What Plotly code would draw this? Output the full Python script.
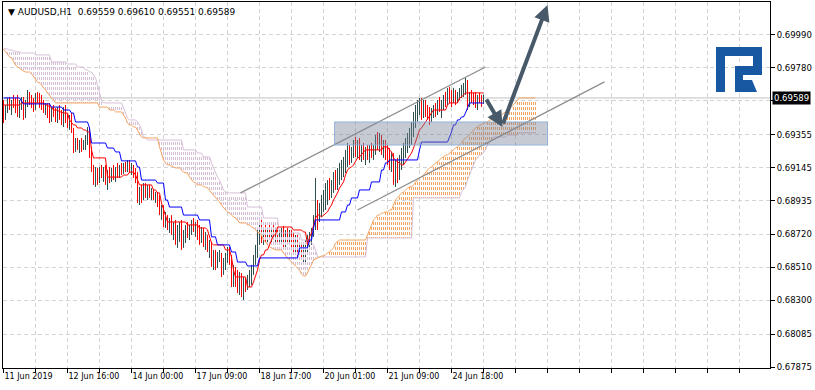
import math
import plotly.graph_objects as go

# ---------------- data (prices in 1e-5 units) ----------------
time_labels = ["11 Jun 2019", "12 Jun 16:00", "14 Jun 00:00", "17 Jun 09:00",
               "18 Jun 17:00", "20 Jun 01:00", "21 Jun 09:00", "24 Jun 18:00"]
label_bars = [0, 32, 64, 96, 128, 160, 192, 224]
price_ticks = [0.69990, 0.69780, 0.69570, 0.69355, 0.69145, 0.68935,
               0.68720, 0.68510, 0.68300, 0.68085, 0.67875]
price_tick_text = ["0.69990", "0.69780", "", "0.69355", "0.69145", "0.68935",
                   "0.68720", "0.68510", "0.68300", "0.68085", "0.67875"]
last_price = 0.69589
header_text = "AUDUSD,H1  0.69559 0.69610 0.69551 0.69589"

bar_open = [
    69557, 69461, 69525, 69557, 69531, 69563, 69544, 69512, 69480, 69557,
    69576, 69468, 69557, 69608, 69576, 69544, 69525, 69595, 69576, 69557,
    69544, 69512, 69531, 69493, 69461, 69512, 69493, 69461, 69500, 69468,
    69449, 69493, 69449, 69417, 69461, 69385, 69258, 69308, 69277, 69302,
    69270, 69289, 69321, 69353, 69226, 69143, 69066, 69117, 69066, 69130,
    69098, 69130, 69054, 69098, 69079, 69117, 69098, 69130, 69098, 69143,
    69117, 69162, 69143, 69175, 69130, 69149, 69098, 69066, 68952, 68990,
    68952, 69015, 68984, 69003, 68971, 68990, 68958, 68971, 68920, 68863,
    68888, 68799, 68824, 68780, 68799, 68748, 68767, 68684, 68735, 68761,
    68653, 68716, 68748, 68735, 68761, 68780, 68748, 68767, 68716, 68684,
    68735, 68665, 68704, 68634, 68653, 68544, 68589, 68526, 68576, 68589,
    68481, 68544, 68570, 68608, 68557, 68411, 68481, 68430, 68398, 68430,
    68366, 68411, 68398, 68443, 68474, 68506, 68570, 68621, 68716, 68761,
    68697, 68729, 68697, 68735, 68716, 68748, 68704, 68729, 68697, 68716,
    68735, 68665, 68716, 68684, 68704, 68665, 68640, 68684, 68608, 68640,
    68589, 68621, 68653, 68684, 68704, 68735, 68812, 68875, 68843, 68894,
    68939, 68971, 69003, 69035, 68990, 69035, 69079, 69047, 69098, 69130,
    69143, 69181, 69207, 69258, 69194, 69245, 69289, 69258, 69277, 69226,
    69258, 69213, 69245, 69226, 69258, 69238, 69270, 69321, 69289, 69321,
    69258, 69289, 69226, 69194, 69162, 69194, 69066, 69130, 69098, 69194,
    69226, 69258, 69308, 69334, 69366, 69404, 69461, 69512, 69544, 69563,
    69480, 69544, 69500, 69480, 69449, 69500, 69525, 69493, 69544, 69525,
    69557, 69589, 69557, 69627, 69608, 69576, 69621, 69589, 69608, 69627,
    69640, 69652, 69672, 69544, 69608, 69589, 69576, 69557, 69595, 69576,
    69559]
bar_high = [
    69576, 69544, 69589, 69595, 69576, 69608, 69589, 69608, 69576, 69595,
    69595, 69576, 69640, 69627, 69608, 69589, 69621, 69627, 69621, 69608,
    69576, 69557, 69557, 69557, 69531, 69544, 69525, 69531, 69544, 69512,
    69531, 69544, 69493, 69480, 69493, 69398, 69334, 69334, 69321, 69334,
    69321, 69353, 69404, 69404, 69277, 69162, 69149, 69143, 69149, 69162,
    69149, 69162, 69130, 69149, 69143, 69162, 69149, 69175, 69162, 69175,
    69175, 69181, 69194, 69194, 69175, 69162, 69143, 69117, 69022, 69035,
    69047, 69047, 69035, 69035, 69015, 69003, 68990, 68990, 68971, 68907,
    68907, 68863, 68843, 68824, 68843, 68799, 68812, 68780, 68799, 68812,
    68748, 68780, 68799, 68780, 68812, 68824, 68799, 68812, 68780, 68767,
    68761, 68735, 68716, 68684, 68672, 68621, 68621, 68608, 68621, 68602,
    68570, 68602, 68640, 68640, 68589, 68526, 68513, 68493, 68481, 68474,
    68449, 68443, 68462, 68493, 68526, 68589, 68653, 68748, 68799, 68812,
    68761, 68780, 68748, 68780, 68761, 68780, 68761, 68767, 68748, 68761,
    68773, 68748, 68761, 68748, 68748, 68729, 68716, 68716, 68672, 68672,
    68653, 68684, 68716, 68735, 68761, 68843, 69079, 68939, 68920, 68971,
    69003, 69047, 69066, 69079, 69066, 69117, 69130, 69143, 69175, 69194,
    69213, 69258, 69302, 69289, 69277, 69321, 69340, 69321, 69334, 69289,
    69302, 69277, 69289, 69289, 69302, 69289, 69353, 69372, 69366, 69353,
    69321, 69321, 69289, 69270, 69245, 69238, 69194, 69207, 69226, 69270,
    69302, 69334, 69366, 69398, 69436, 69500, 69544, 69576, 69589, 69589,
    69576, 69576, 69544, 69531, 69525, 69544, 69557, 69576, 69595, 69576,
    69608, 69627, 69652, 69659, 69640, 69652, 69640, 69627, 69652, 69672,
    69684, 69716, 69703, 69627, 69640, 69621, 69627, 69608, 69621, 69608,
    69610]
bar_low = [
    69429, 69449, 69493, 69512, 69480, 69525, 69493, 69468, 69461, 69512,
    69449, 69461, 69531, 69544, 69525, 69500, 69512, 69557, 69525, 69512,
    69493, 69480, 69461, 69429, 69436, 69468, 69436, 69429, 69449, 69417,
    69404, 69429, 69398, 69385, 69366, 69238, 69245, 69258, 69238, 69245,
    69258, 69258, 69289, 69207, 69117, 69035, 69022, 69035, 69047, 69079,
    69054, 69035, 69003, 69047, 69054, 69066, 69054, 69079, 69079, 69098,
    69105, 69117, 69117, 69111, 69098, 69079, 69047, 68920, 68907, 68920,
    68939, 68952, 68939, 68952, 68939, 68939, 68920, 68894, 68843, 68812,
    68767, 68761, 68748, 68729, 68716, 68684, 68653, 68634, 68672, 68621,
    68634, 68665, 68697, 68684, 68716, 68735, 68704, 68684, 68653, 68665,
    68640, 68621, 68608, 68570, 68513, 68493, 68493, 68506, 68544, 68449,
    68462, 68493, 68538, 68526, 68385, 68385, 68385, 68347, 68334, 68321,
    68302, 68353, 68366, 68385, 68398, 68462, 68526, 68570, 68653, 68665,
    68653, 68672, 68653, 68684, 68665, 68684, 68653, 68672, 68653, 68672,
    68634, 68640, 68672, 68653, 68634, 68608, 68589, 68570, 68589, 68557,
    68538, 68544, 68608, 68621, 68653, 68704, 68748, 68748, 68799, 68831,
    68863, 68875, 68907, 68939, 68952, 68984, 69003, 69003, 69035, 69066,
    69085, 69111, 69149, 69162, 69175, 69207, 69213, 69207, 69194, 69181,
    69194, 69162, 69194, 69175, 69207, 69194, 69226, 69258, 69245, 69226,
    69207, 69194, 69162, 69130, 69117, 69035, 69022, 69047, 69066, 69130,
    69162, 69207, 69238, 69270, 69289, 69340, 69398, 69436, 69480, 69449,
    69461, 69468, 69449, 69417, 69436, 69461, 69468, 69480, 69500, 69461,
    69512, 69531, 69544, 69557, 69531, 69557, 69544, 69557, 69576, 69589,
    69595, 69608, 69512, 69531, 69557, 69544, 69525, 69512, 69557, 69531,
    69551]
bar_close = [
    69461, 69525, 69557, 69531, 69563, 69544, 69512, 69480, 69557, 69576,
    69468, 69557, 69608, 69576, 69544, 69525, 69595, 69576, 69557, 69544,
    69512, 69531, 69493, 69461, 69512, 69493, 69461, 69500, 69468, 69449,
    69493, 69449, 69417, 69461, 69385, 69258, 69308, 69277, 69302, 69270,
    69289, 69321, 69353, 69226, 69143, 69066, 69117, 69066, 69130, 69098,
    69130, 69054, 69098, 69079, 69117, 69098, 69130, 69098, 69143, 69117,
    69162, 69143, 69175, 69130, 69149, 69098, 69066, 68952, 68990, 68952,
    69015, 68984, 69003, 68971, 68990, 68958, 68971, 68920, 68863, 68888,
    68799, 68824, 68780, 68799, 68748, 68767, 68684, 68735, 68761, 68653,
    68716, 68748, 68735, 68761, 68780, 68748, 68767, 68716, 68684, 68735,
    68665, 68704, 68634, 68653, 68544, 68589, 68526, 68576, 68589, 68481,
    68544, 68570, 68608, 68557, 68411, 68481, 68430, 68398, 68430, 68366,
    68411, 68398, 68443, 68474, 68506, 68570, 68621, 68716, 68761, 68697,
    68729, 68697, 68735, 68716, 68748, 68704, 68729, 68697, 68716, 68735,
    68665, 68716, 68684, 68704, 68665, 68640, 68684, 68608, 68640, 68589,
    68621, 68653, 68684, 68704, 68735, 68812, 68875, 68843, 68894, 68939,
    68971, 69003, 69035, 68990, 69035, 69079, 69047, 69098, 69130, 69143,
    69181, 69207, 69258, 69194, 69245, 69289, 69258, 69277, 69226, 69258,
    69213, 69245, 69226, 69258, 69238, 69270, 69321, 69289, 69321, 69258,
    69289, 69226, 69194, 69162, 69194, 69066, 69130, 69098, 69194, 69226,
    69258, 69308, 69334, 69366, 69404, 69461, 69512, 69544, 69563, 69480,
    69544, 69500, 69480, 69449, 69500, 69525, 69493, 69544, 69525, 69557,
    69589, 69557, 69627, 69608, 69576, 69621, 69589, 69608, 69627, 69640,
    69652, 69672, 69544, 69608, 69589, 69576, 69557, 69595, 69576, 69557,
    69589]

tenkan_sen = [
    69544, 69544, 69544, 69544, 69544, 69544, 69544, 69544, 69544,
    69557, 69557, 69557, 69557, 69557, 69557, 69557, 69557, 69557, 69557, 69557, 69557,
    69544, 69544, 69531, 69531, 69512, 69512, 69512, 69500, 69500, 69493, 69493, 69493,
    69449, 69429, 69417, 69417, 69398, 69398, 69398, 69385, 69385, 69372, 69372,
    69258, 69207, 69207, 69207, 69207, 69207, 69207, 69207,
    69085, 69085, 69085, 69085, 69085, 69085, 69085, 69085,
    69098, 69098, 69098, 69117, 69117, 69117, 69098, 69066,
    69035, 69035, 69035, 69035, 69035, 69035, 69035, 69003, 69003, 68984, 68984,
    68920, 68875, 68843,
    68799, 68799, 68799, 68799, 68799, 68799, 68799, 68799, 68799, 68799,
    68780, 68780, 68780, 68780, 68780, 68780,
    68761, 68761, 68761, 68761,
    68748, 68704, 68665,
    68653, 68653, 68653, 68653, 68653, 68653,
    68621, 68621, 68621,
    68576, 68493,
    68449, 68449, 68449, 68449, 68449, 68449,
    68385, 68385, 68385,
    68417, 68462, 68493, 68557, 68589, 68589, 68621, 68621, 68653, 68684, 68716, 68716,
    68767, 68767, 68767, 68767, 68767, 68767, 68767, 68767,
    68748, 68748, 68748, 68748, 68748,
    68735, 68735, 68653, 68704, 68729, 68780, 68824, 68843, 68843,
    68831, 68843, 68856, 68863, 68888, 68907, 68939, 68958, 68984, 69015, 69035,
    69054, 69098, 69130, 69143, 69149, 69162, 69181, 69207, 69213, 69226, 69245,
    69258, 69258, 69258, 69258, 69258, 69258, 69258, 69258, 69258,
    69277, 69277, 69277,
    69258, 69245, 69207, 69194, 69181, 69175, 69162, 69162, 69181, 69194, 69213,
    69238, 69270, 69308, 69353, 69385, 69398, 69417, 69429, 69449, 69468, 69493,
    69512, 69512, 69512, 69512, 69512, 69512, 69512,
    69544,
    69557, 69557, 69557, 69557, 69557,
    69589, 69595, 69608,
    69621, 69621, 69621, 69621, 69621, 69621, 69621, 69621, 69621, 69621]

kijun_sen = [
    69589, 69589, 69589, 69589, 69589, 69589, 69589, 69589, 69589, 69570,
    69551, 69551, 69551, 69551, 69551, 69551, 69551, 69551, 69551, 69551, 69551, 69551, 69551, 69551,
    69531, 69531, 69531, 69531, 69531, 69531,
    69512, 69512, 69512, 69512, 69493, 69493,
    69436, 69436, 69436, 69436, 69436, 69436, 69436, 69398,
    69302, 69302, 69302, 69302, 69302, 69302, 69302, 69302,
    69270, 69270, 69270, 69270, 69245, 69245, 69245,
    69188, 69188, 69188, 69188, 69188, 69188, 69188, 69188,
    69149, 69149,
    69066, 69066, 69066, 69066, 69066, 69066, 69066, 69066,
    69047, 69047, 69047, 69047, 68939, 68939,
    68894, 68894, 68894, 68894, 68894, 68894, 68894,
    68843, 68843, 68843, 68843, 68843, 68843, 68843, 68843,
    68812, 68812, 68812, 68812, 68812, 68812,
    68704, 68704, 68704,
    68653, 68653, 68653, 68653, 68653, 68653, 68653,
    68608, 68608, 68608,
    68544, 68544, 68544, 68544, 68544,
    68519, 68519, 68519, 68519, 68519, 68519,
    68570, 68570, 68570, 68570, 68570, 68570, 68570, 68570, 68570, 68570,
    68570, 68570, 68570, 68570, 68570, 68570, 68570, 68570, 68570, 68570,
    68634, 68634, 68634, 68634, 68634, 68684, 68684, 68761,
    68812, 68812, 68812, 68812, 68812, 68812, 68812, 68812, 68812, 68812, 68812, 68812, 68812,
    68863, 68863, 68863, 68907, 68907,
    68952, 68952, 68952, 68952,
    69003, 69003, 69003, 69003, 69003, 69003,
    69054, 69054, 69054, 69054, 69054,
    69130, 69130, 69175, 69175,
    69194, 69194, 69194, 69194, 69194, 69194, 69194, 69194, 69194, 69194,
    69194, 69194, 69194, 69194, 69194,
    69258,
    69308, 69308, 69308, 69308, 69308, 69308, 69308, 69308, 69308, 69308,
    69308, 69308, 69308, 69308,
    69340, 69372, 69417, 69417, 69449, 69449, 69468, 69468, 69493, 69525,
    69557, 69557, 69557, 69557, 69557, 69557, 69557, 69557]

senkou_a = [
    69901, 69882, 69863, 69850, 69844, 69818, 69799, 69786, 69780, 69767,
    69761, 69754, 69754, 69754, 69742, 69723, 69703, 69691, 69684, 69672,
    69652, 69640, 69621, 69602, 69589, 69576,
    69557, 69557, 69557, 69557, 69557, 69557, 69557, 69557, 69557, 69557, 69557,
    69557, 69557, 69557, 69557, 69557, 69557, 69557, 69557, 69557, 69557, 69557,
    69531, 69531, 69531, 69531, 69531, 69512, 69512, 69512,
    69500, 69500, 69500, 69500, 69480, 69461, 69429, 69417, 69417, 69404,
    69404, 69385, 69366, 69340,
    69334, 69334, 69334, 69334, 69334, 69334, 69334, 69334,
    69277, 69226, 69194, 69175, 69162, 69162, 69156, 69149, 69143, 69143,
    69143, 69130, 69117, 69111, 69111, 69085, 69066, 69054, 69047, 69035,
    69035, 69035, 69022, 69022, 69015, 69003, 68984, 68971, 68952, 68939,
    68926, 68907, 68888, 68875, 68863, 68856, 68843, 68831, 68824, 68812,
    68793, 68793, 68793, 68793, 68780, 68780, 68767, 68761, 68748, 68735,
    68729, 68716, 68684, 68672, 68653, 68640, 68634, 68627,
    68621, 68621, 68621, 68621, 68602, 68582, 68570, 68557, 68544, 68532,
    68519, 68506, 68493, 68468, 68455, 68455, 68474, 68506, 68526, 68557,
    68564, 68570, 68576, 68582, 68582, 68589, 68602, 68608, 68621, 68634,
    68665, 68672,
    68684, 68684, 68684, 68684, 68684, 68684, 68684, 68684, 68684, 68684,
    68684, 68684, 68684, 68684,
    68716, 68748, 68780, 68812, 68824, 68843, 68843, 68856, 68856, 68863,
    68863, 68875, 68875, 68907, 68939, 68952, 68971, 68984, 68990, 69003,
    69015, 69022, 69022, 69035, 69054, 69066, 69079, 69085, 69098, 69117,
    69130, 69143, 69149, 69162, 69175, 69181, 69194, 69207, 69213, 69226,
    69226, 69238, 69245, 69258, 69270, 69277, 69289, 69302, 69321, 69334,
    69340, 69353, 69372, 69385, 69398, 69404, 69417, 69417, 69429, 69429,
    69436, 69449, 69449, 69461, 69461, 69468, 69480, 69480, 69493, 69500,
    69512, 69525, 69531, 69544, 69557, 69576,
    69589, 69589, 69589, 69589, 69589, 69589, 69589, 69589, 69589]

senkou_b = [
    69907, 69901, 69901, 69894, 69894, 69888, 69888, 69882, 69882,
    69875, 69875, 69875, 69875, 69875, 69875, 69875,
    69863, 69863, 69863, 69863, 69863, 69863, 69863, 69863,
    69818, 69818, 69818, 69818, 69818, 69818, 69818, 69818,
    69805, 69805, 69805, 69805, 69805,
    69786, 69786, 69786, 69786,
    69767, 69767, 69754, 69754, 69735, 69716, 69672, 69627, 69576,
    69557, 69557, 69557, 69557, 69557, 69557, 69557, 69557, 69557, 69557,
    69525, 69493, 69461, 69449, 69449, 69449, 69449, 69436, 69417, 69385,
    69340, 69340,
    69321, 69321, 69321, 69321, 69321, 69321, 69321, 69321, 69321,
    69321, 69321, 69321, 69321, 69321, 69321, 69321, 69321, 69321,
    69258, 69258, 69258, 69258, 69258, 69258, 69258,
    69238, 69238, 69238, 69213, 69213, 69213, 69213,
    69175, 69143, 69111, 69085, 69066, 69035, 69003, 68990,
    68984, 68984, 68984, 68984, 68984, 68984, 68984, 68984, 68984, 68984,
    68894, 68894, 68894, 68894, 68894, 68894, 68894, 68894,
    68824, 68824, 68824, 68824, 68824, 68824, 68824, 68824,
    68729, 68729, 68729, 68729, 68729, 68729, 68729, 68729, 68729, 68729, 68729,
    68684, 68684, 68684, 68684, 68684, 68665, 68653, 68621,
    68576, 68576, 68576, 68576, 68576, 68576, 68576, 68576, 68576, 68576,
    68576, 68576, 68576, 68576, 68576, 68576, 68576, 68576, 68576, 68576,
    68576, 68576, 68576, 68576, 68576,
    68697, 68697, 68697, 68697, 68697, 68697, 68697, 68697, 68697, 68697,
    68697, 68697, 68697, 68697, 68697, 68697, 68697, 68697, 68697, 68697,
    68697, 68697, 68697,
    68952, 68952, 68952, 68952, 68952, 68952, 68952, 68952, 68952, 68952,
    68952, 68952, 68952, 68952, 68952, 68952, 68952, 68952, 68952, 68952,
    68952, 68952, 68952, 68952,
    68990, 69003, 69022, 69066, 69098, 69130, 69162, 69194, 69207, 69226,
    69226, 69245, 69258, 69289, 69308, 69321,
    69340, 69340, 69340, 69340, 69340, 69340, 69340,
    69353, 69353, 69353, 69353, 69353, 69353,
    69366, 69366, 69366, 69366, 69366, 69366, 69366, 69366, 69366]

# analyst drawings (bar index, price)
channel_upper = ([118.5, 241.0], [0.68984, 0.69786])
channel_lower = ([177.0, 300.5], [0.68875, 0.69691])
zone_box = ([165.5, 272.0], [0.69289, 0.69436])
arrow_down = ([241.0, 249.5], [0.69589, 0.69404])   # tail -> head
arrow_up = ([249.5, 272.0], [0.69417, 0.70181])     # tail -> head

# ---------------- styling ----------------
FONT = "DejaVu Sans"
BAR_UP = "#2F4F4F"
BAR_DN = "#FF0000"
TENKAN = "#FF0000"
KIJUN = "#0000FF"
SPAN_A = "#F4A460"
SPAN_B = "#D8BFD8"
GRID = "#D3D3D3"
ARROW = "#485A69"
LOGO = "#1858A2"

PL, PR, PT, PB = 3, 770, 2, 368
X_RANGE = [-0.25, 383.25]
Y_RANGE = [0.67869, 0.70200]

S = 1e-5
def price(v):
    return [x * S for x in v]

bars_x = list(range(len(bar_close)))
cloud_x = list(range(len(senkou_a)))
sa = price(senkou_a)
sb = price(senkou_b)

# cloud hatching: dotted vertical strokes, rows aligned on a 5 px lattice
k = (PB - PT) / (Y_RANGE[1] - Y_RANGE[0])
HATCH = 5
hx = {SPAN_A: [], SPAN_B: []}
hy = {SPAN_A: [], SPAN_B: []}
for i, (av, bv) in zip(cloud_x, zip(sa, sb)):
    top, bot = max(av, bv), min(av, bv)
    ypx = (Y_RANGE[1] - top) * k
    start = Y_RANGE[1] - math.ceil(ypx / HATCH) * HATCH / k
    if start <= bot:
        continue
    col = SPAN_A if av >= bv else SPAN_B
    hx[col] += [i, i, None]
    hy[col] += [start, bot, None]

fig = go.Figure()
for col in (SPAN_A, SPAN_B):
    fig.add_trace(go.Scatter(x=hx[col], y=hy[col], mode="lines",
                             line=dict(color=col, width=1, dash="3px,2px"),
                             hoverinfo="skip"))

fig.add_trace(go.Scatter(x=cloud_x, y=sb, mode="lines",
                         line=dict(color=SPAN_B, width=1), hoverinfo="skip"))
fig.add_trace(go.Scatter(x=cloud_x, y=sa, mode="lines",
                         line=dict(color=SPAN_A, width=1), hoverinfo="skip"))

fig.add_trace(go.Ohlc(
    x=bars_x, open=price(bar_open), high=price(bar_high),
    low=price(bar_low), close=price(bar_close), tickwidth=0.2,
    increasing=dict(line=dict(color=BAR_UP, width=1)),
    decreasing=dict(line=dict(color=BAR_DN, width=1)),
    hoverinfo="skip"))

fig.add_trace(go.Scatter(x=bars_x, y=price(tenkan_sen), mode="lines",
                         line=dict(color=TENKAN, width=1), hoverinfo="skip"))
fig.add_trace(go.Scatter(x=bars_x, y=price(kijun_sen), mode="lines",
                         line=dict(color=KIJUN, width=1), hoverinfo="skip"))

shapes = []
shapes.append(dict(type="line", xref="x", yref="y", x0=X_RANGE[0], x1=X_RANGE[1],
                   y0=last_price, y1=last_price, layer="below",
                   line=dict(color="#C0C0C0", width=1)))
for cx, cy in (channel_upper, channel_lower):
    shapes.append(dict(type="line", xref="x", yref="y", x0=cx[0], x1=cx[1],
                       y0=cy[0], y1=cy[1], line=dict(color="#8E8E8E", width=1.3)))
shapes.append(dict(type="rect", xref="x", yref="y", x0=zone_box[0][0], x1=zone_box[0][1],
                   y0=zone_box[1][0], y1=zone_box[1][1],
                   fillcolor="rgba(118,132,150,0.42)",
                   line=dict(color="rgba(140,175,220,0.9)", width=1)))

# logo (pixel placement converted to paper coordinates)
def pxp(X, Y):
    return ((X - PL) / (PR - PL), (PB - Y) / (PB - PT))
logo_rects = [(716, 47, 725, 92), (716, 47, 762, 56), (753, 47, 762, 75),
              (735, 66, 762, 75), (735, 66, 743, 92)]
for x0, y0, x1, y1 in logo_rects:
    a0 = pxp(x0, y0); a1 = pxp(x1, y1)
    shapes.append(dict(type="rect", xref="paper", yref="paper", x0=a0[0], x1=a1[0],
                       y0=a1[1], y1=a0[1], fillcolor=LOGO, line=dict(width=0)))
leg = [pxp(743, 80), pxp(752, 80), pxp(757, 92), pxp(743, 92)]
shapes.append(dict(type="path", xref="paper", yref="paper",
                   path="M " + " L ".join(f"{p[0]},{p[1]}" for p in leg) + " Z",
                   fillcolor=LOGO, line=dict(width=0)))

annotations = []
for (tx, ty) in (arrow_down, arrow_up):
    annotations.append(dict(x=tx[1], y=ty[1], ax=tx[0], ay=ty[0], xref="x", yref="y",
                            axref="x", ayref="y", text="", showarrow=True,
                            arrowhead=2, arrowsize=0.8, arrowwidth=4, arrowcolor=ARROW,
                            standoff=0, startstandoff=0))
annotations.append(dict(x=0, y=1, xref="paper", yref="paper", xanchor="left",
                        yanchor="top", xshift=3, yshift=-3, showarrow=False,
                        text="\u25BC " + header_text,
                        font=dict(family=FONT, size=9, color="black")))
annotations.append(dict(x=1, y=last_price, xref="paper", yref="y", xanchor="left",
                        yanchor="middle", xshift=2, showarrow=False,
                        text=f"{last_price:.5f}", bgcolor="black", borderpad=1,
                        font=dict(family=FONT, size=8.5, color="white")))

grid_vals = list(range(0, 384, 16))
grid_text = []
for v in grid_vals:
    grid_text.append(time_labels[label_bars.index(v)] if v in label_bars else "")

fig.update_layout(
    width=815, height=390,
    margin=dict(l=PL, r=815 - PR, t=PT, b=390 - PB, pad=0),
    paper_bgcolor="white", plot_bgcolor="white",
    showlegend=False, hovermode=False,
    font=dict(family=FONT, size=8.5, color="black"),
    shapes=shapes, annotations=annotations,
)
fig.update_xaxes(
    range=X_RANGE, tickmode="array", tickvals=grid_vals, ticktext=grid_text,
    ticks="outside", ticklen=4, tickcolor="black", ticklabelposition="outside right",
    tickfont=dict(family=FONT, size=8, color="black"),
    showgrid=True, gridcolor=GRID, griddash="4px,3px", gridwidth=1,
    showline=True, linecolor="black", linewidth=1, mirror=True, zeroline=False,
    rangeslider=dict(visible=False), fixedrange=True,
)
fig.update_yaxes(
    range=Y_RANGE, side="right", tickmode="array", tickvals=price_ticks,
    ticktext=price_tick_text, ticks="outside", ticklen=4, tickcolor="black",
    showgrid=True, gridcolor=GRID, griddash="4px,3px", gridwidth=1,
    showline=True, linecolor="black", linewidth=1, mirror=True, zeroline=False,
    fixedrange=True,
)

fig.write_html("out.html", config={"displayModeBar": False},
               post_script="document.body.style.margin='0';document.body.style.overflow='hidden';")
